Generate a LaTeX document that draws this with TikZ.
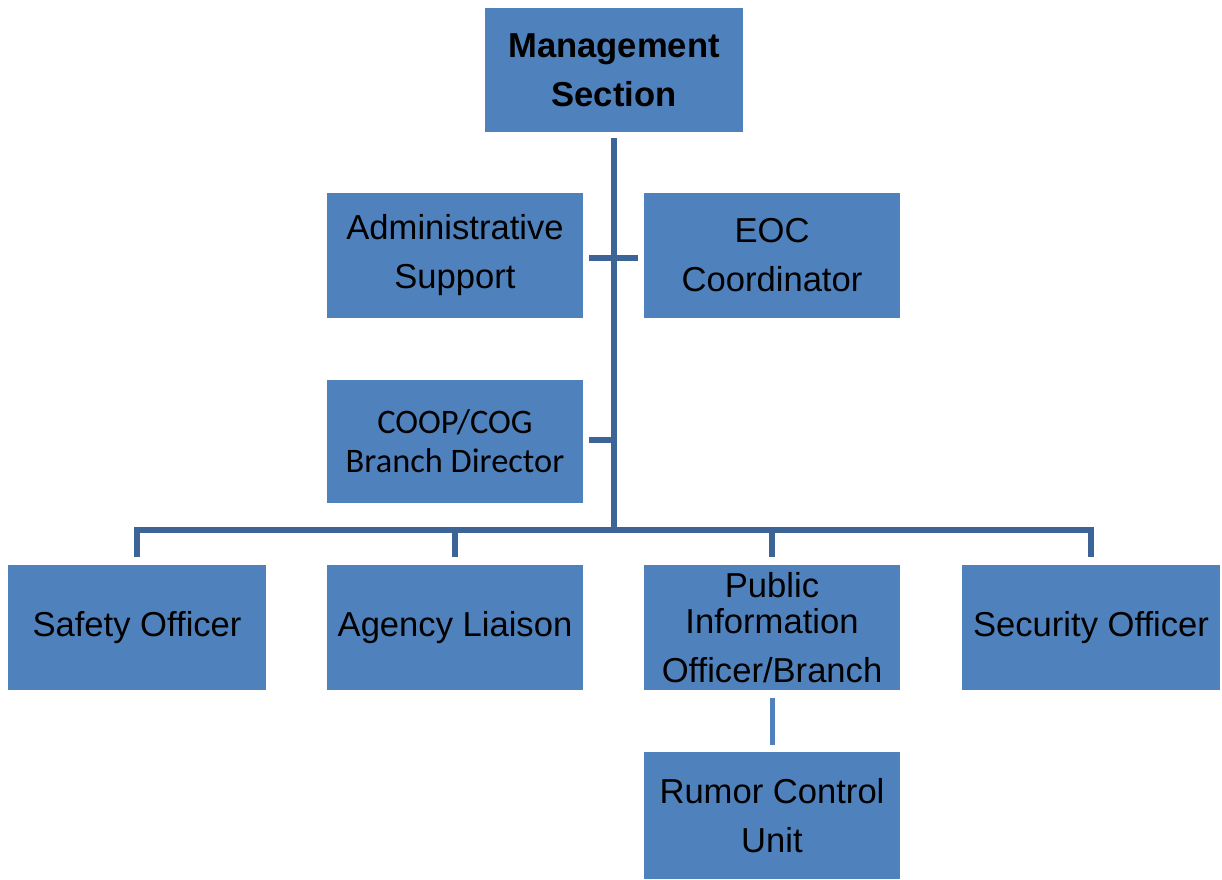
\documentclass[tikz,border=0pt]{standalone}
\usepackage{fontspec}
\setmainfont{Liberation Sans}
\newfontfamily\calibrifont{Carlito}
\definecolor{boxblue}{RGB}{79,129,189}
\definecolor{linkblue}{RGB}{60,100,150}
\begin{document}
\begin{tikzpicture}[x=1pt,y=-1pt,
  orgbox/.style={fill=boxblue, draw=none, inner sep=0pt, align=center,
    text=black, font=\fontsize{34.6}{49}\selectfont},
  conn/.style={draw=linkblue, line width=6.5pt},
  subconn/.style={draw=boxblue, line width=5pt}]
\useasboundingbox (0,0) rectangle (1222,879);
\node[orgbox, minimum width=258pt, minimum height=124pt, font=\bfseries\fontsize{34.6}{49}\selectfont] (mgmt) at (614,70) {Management\\Section};
\node[orgbox, minimum width=256pt, minimum height=125pt] (admin) at (455,255.5) {Administrative\\Support};
\node[orgbox, minimum width=256pt, minimum height=125pt] (eoc) at (772,255.5) {EOC\\Coordinator};
\node[orgbox, minimum width=256pt, minimum height=123pt, font=\calibrifont\fontsize{34.4}{39}\selectfont] (coop) at (455,441.5) {COOP/COG\\Branch Director};
\node[orgbox, minimum width=258pt, minimum height=125pt] (safety) at (137,627.5) {Safety Officer};
\node[orgbox, minimum width=256pt, minimum height=125pt] (agency) at (455,627.5) {Agency Liaison};
\node[orgbox, minimum width=256pt, minimum height=125pt] (pio) at (772,627.5) {Public\\[-13pt]Information\\Officer/Branch};
\node[orgbox, minimum width=258pt, minimum height=125pt] (security) at (1091,627.5) {Security Officer};
\node[orgbox, minimum width=256pt, minimum height=127pt] (rumor) at (772,815.5) {Rumor Control\\Unit};
\coordinate (bus) at (613,530);
\coordinate (cooptick) at ([xshift=6pt,yshift=1.5pt]coop.east);
% trunk
\draw[conn] ([yshift=-6pt]mgmt.south) -- (mgmt.south |- bus);
% cross tick between admin and eoc
\draw[conn] ([xshift=6pt,yshift=-2.5pt]admin.east) -- ([xshift=-6pt,yshift=-2.5pt]eoc.west);
% coop tick
\draw[conn] (cooptick) -- (mgmt.south |- cooptick);
% bus
\draw[conn] ([yshift=8pt]safety.north) |- (bus) -| ([yshift=8pt]security.north);
\draw[conn] ([yshift=8pt]agency.north) -- (agency.north |- bus);
\draw[conn] ([yshift=8pt]pio.north) -- (pio.north |- bus);
% pio to rumor
\draw[subconn] ([yshift=-8pt]pio.south) -- ([yshift=7pt]rumor.north);
\end{tikzpicture}
\end{document}
